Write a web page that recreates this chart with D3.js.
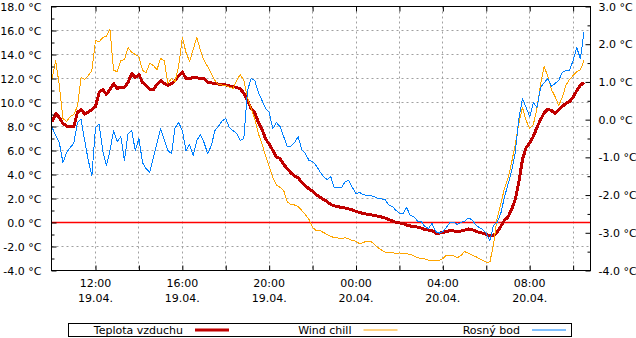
<!DOCTYPE html>
<html><head><meta charset="utf-8">
<script src="https://cdn.jsdelivr.net/npm/d3@7"></script>
<style>
body{margin:0;background:#fff}
svg{display:block}
text{font-family:"DejaVu Sans",sans-serif;font-size:11px;fill:#000}
</style>
</head><body>
<svg id="chart" width="636" height="338"></svg>
<script>
// ---------------- data ----------------
const seriesNames = ["Teplota vzduchu", "Wind chill", "Rosný bod"];
const seriesColors = ["#c00000", "#ffa500", "#0080ff"];
const firstSample = new Date(2024, 3, 19, 10, 0);   // 19.04. 10:00
const sampleStepMinutes = 10;
const axisStart = new Date(2024, 3, 19, 9, 58, 24);
const axisEnd = new Date(2024, 3, 20, 10, 48);

// Teplota vzduchu (left axis, °C)
const temperature = [8.42, 9.08, 8.75, 8.25, 8.04, 8.0, 7.96, 9.17, 9.42, 9.04,
 9.2, 9.42, 9.67, 10.83, 11.08, 10.67, 11.08, 11.58, 11.17, 11.29,
 11.25, 11.67, 12.42, 12.08, 12.33, 11.67, 11.42, 11.08, 11.08, 11.5,
 11.83, 11.58, 11.42, 11.58, 11.83, 12.25, 12.54, 12.0, 12.0, 12.08,
 12.08, 11.96, 12.0, 11.67, 11.63, 11.58, 11.54, 11.5, 11.46, 11.38,
 11.33, 11.25, 11.13, 10.79, 10.17, 9.5, 9.17, 8.36, 7.79, 6.96,
 6.54, 6.0, 5.47, 5.33, 4.83, 4.5, 4.13, 3.88, 3.72, 3.36,
 3.08, 2.79, 2.63, 2.33, 2.13, 1.92, 1.75, 1.5, 1.38, 1.33,
 1.25, 1.21, 1.13, 1.04, 0.92, 0.83, 0.75, 0.69, 0.65, 0.58,
 0.53, 0.46, 0.38, 0.25, 0.13, 0.02, -0.04, -0.08, -0.21, -0.29,
 -0.33, -0.38, -0.46, -0.58, -0.63, -0.67, -0.88, -0.89, -0.83, -0.75,
 -0.67, -0.71, -0.78, -0.71, -0.63, -0.54, -0.58, -0.71, -0.83, -0.89,
 -1.0, -1.13, -1.08, -0.81, -0.33, 0.17, 0.46, 1.08, 1.92, 3.39,
 5.25, 6.25, 6.63, 7.17, 7.92, 8.58, 9.13, 9.46, 9.33, 9.08,
 9.38, 9.67, 9.92, 10.08, 10.42, 11.0, 11.42, 11.69];

// Wind chill (left axis, °C)
const windChill = [12.0, 13.5, 11.42, 8.67, 8.42, 8.83, 9.0, 9.67, 12.08, 11.92,
 12.25, 12.67, 15.17, 15.04, 15.42, 15.5, 16.08, 12.67, 12.58, 13.5,
 13.58, 14.58, 14.17, 14.0, 13.83, 12.67, 12.5, 13.25, 13.08, 12.75,
 13.67, 13.5, 11.58, 12.0, 11.75, 13.08, 15.42, 14.17, 13.42, 14.42,
 15.42, 14.33, 13.5, 13.0, 12.42, 11.83, 11.5, 11.46, 11.42, 11.29,
 11.17, 11.83, 12.33, 11.83, 10.42, 9.5, 8.67, 7.42, 6.54, 5.58,
 4.67, 3.75, 3.13, 2.92, 2.67, 1.71, 1.5, 1.46, 1.33, 1.0,
 0.67, 0.25, -0.42, -0.67, -0.67, -0.83, -1.0, -1.17, -1.25, -1.29,
 -1.36, -1.25, -1.38, -1.5, -1.56, -1.79, -1.67, -1.54, -1.56, -1.79,
 -2.08, -2.29, -2.46, -2.5, -2.53, -2.56, -2.54, -2.58, -2.61, -2.65,
 -2.79, -2.92, -3.03, -3.03, -3.13, -3.17, -3.17, -3.17, -3.0, -2.71,
 -2.71, -2.79, -2.94, -2.75, -2.42, -2.56, -2.71, -2.83, -3.0, -3.17,
 -3.31, -3.29, -1.8, 0.33, 1.5, 2.83, 3.67, 5.0, 6.5, 8.25,
 9.58, 8.5, 7.83, 8.17, 9.5, 11.5, 13.0, 12.17, 11.08, 10.5,
 9.75, 10.42, 11.42, 11.92, 12.25, 12.58, 12.71, 13.5];

// Rosný bod (right axis, °C)
const dewPoint = [-0.21, -0.42, -0.61, -1.14, -0.87, -0.74, -0.63, -0.08, 0.02, -0.55,
 -1.08, -1.48, -0.21, -0.12, -0.82, -1.22, -0.82, -0.29, -0.58, -0.45,
 -1.08, -0.37, -0.29, -0.82, -0.5, -1.14, -1.3, -1.4, -1.0, -0.61,
 -0.24, -0.53, -0.82, -0.9, -0.21, -0.08, -0.29, -0.82, -0.66, -0.95,
 -0.55, -0.39, -0.61, -0.9, -0.69, -0.29, -0.18, -0.03, 0.03, -0.21,
 -0.29, -0.37, -0.55, -0.5, 0.77, 1.09, 1.04, 0.72, 0.51, 0.3,
 0.19, -0.24, -0.08, -0.18, -0.45, -0.71, -0.71, -0.61, -0.45, -0.79,
 -0.9, -1.08, -1.11, -1.22, -1.38, -1.51, -1.59, -1.51, -1.81, -1.81,
 -1.81, -1.64, -1.61, -1.8, -1.96, -1.93, -1.99, -2.01, -2.01, -2.04,
 -2.09, -2.1, -2.12, -2.26, -2.3, -2.4, -2.49, -2.49, -2.33, -2.54,
 -2.57, -2.69, -2.7, -2.83, -2.89, -2.75, -2.97, -3.01, -2.97, -2.85,
 -2.72, -2.72, -2.78, -2.72, -2.7, -2.61, -2.65, -2.78, -2.86, -2.91,
 -3.01, -3.21, -2.8, -2.72, -2.49, -2.06, -1.72, -1.35, -0.87, 0.03,
 0.56, 0.32, 0.08, 0.45, 0.32, 0.85, 0.98, 1.09, 0.88, 0.96,
 1.04, 1.25, 1.3, 1.3, 1.57, 1.91, 1.62, 2.31];

const leftTicks = [-4, -2, 0, 2, 4, 6, 8, 10, 12, 14, 16, 18];
const leftMinorTicks = [-3, -1, 1, 3, 5, 7, 9, 11, 13, 15, 17];
const rightTicks = [-4, -3, -2, -1, 0, 1, 2, 3];
const rightMinorTicks = [-3.5, -2.5, -1.5, -0.5, 0.5, 1.5, 2.5];
const leftDomain = [-4, 18];
const rightDomain = [-4, 3];
const zeroLineValue = 0;

// ---------------- chart ----------------
const times = temperature.map((_, i) => d3.timeMinute.offset(firstSample, i * sampleStepMinutes));
const svg = d3.select("#chart");
svg.append("rect").attr("width", 636).attr("height", 338).attr("fill", "#fff");

const L = 51.5, R = 590.5, T = 6.5, B = 270.5;
const x = d3.scaleTime().domain([axisStart, axisEnd]).range([L, R]);
const yL = d3.scaleLinear().domain(leftDomain).range([B, T]);
const yR = d3.scaleLinear().domain(rightDomain).range([B, T]);

const everyTwoHours = d3.timeHour.every(2).range(axisStart, axisEnd)
  .filter(d => x(d) > L + 3 && x(d) < R - 3);
const labelHours = everyTwoHours.filter(d => d.getHours() % 4 === 0);

// grid
const grid = svg.append("g").attr("stroke", "#a0a0a0").attr("stroke-width", 1)
  .attr("stroke-dasharray", "2,3").attr("fill", "none");
grid.selectAll("line.v").data(everyTwoHours).join("line")
  .attr("x1", d => Math.round(x(d) - 0.5) + 0.5).attr("x2", d => Math.round(x(d) - 0.5) + 0.5)
  .attr("y1", T).attr("y2", B);
grid.selectAll("line.h").data(leftTicks.filter(v => v > leftDomain[0] && v < leftDomain[1]))
  .join("line")
  .attr("x1", L).attr("x2", R)
  .attr("y1", d => yL(d)).attr("y2", d => yL(d));

// zero line
svg.append("line").attr("x1", L).attr("x2", R)
  .attr("y1", yL(zeroLineValue)).attr("y2", yL(zeroLineValue))
  .attr("stroke", "#ff0000").attr("stroke-width", 1.5);

// series
const series = [
  {values: temperature, y: yL, color: seriesColors[0], width: 3},
  {values: windChill, y: yL, color: seriesColors[1], width: 1},
  {values: dewPoint, y: yR, color: seriesColors[2], width: 1}
];
series.forEach(s => {
  const line = d3.line().x((d, i) => x(times[i])).y(d => s.y(d));
  svg.append("path").datum(s.values).attr("d", line)
    .attr("fill", "none").attr("stroke", s.color).attr("stroke-width", s.width)
    .attr("stroke-linejoin", "round").attr("shape-rendering", "crispEdges");
});

// axes
const fmt = d => d.toFixed(1) + " °C";
function styleAxis(g) {
  g.select(".domain").remove();
  g.selectAll("line").attr("stroke", "#000");
  g.selectAll("text").attr("font-family", "DejaVu Sans, sans-serif").attr("font-size", 11).attr("fill", "#000");
}
svg.append("g").attr("transform", `translate(${L},0)`)
  .call(d3.axisLeft(yL).tickValues(leftTicks).tickSize(-5).tickPadding(10).tickFormat(fmt))
  .call(styleAxis);
svg.append("g").attr("transform", `translate(${L},0)`)
  .call(d3.axisLeft(yL).tickValues(leftMinorTicks).tickSize(-3).tickFormat(""))
  .call(styleAxis);
svg.append("g").attr("transform", `translate(${R},0)`)
  .call(d3.axisRight(yR).tickValues(rightTicks).tickSize(-5).tickPadding(8).tickFormat(fmt))
  .call(styleAxis);
svg.append("g").attr("transform", `translate(${R},0)`)
  .call(d3.axisRight(yR).tickValues(rightMinorTicks).tickSize(-3).tickFormat(""))
  .call(styleAxis);
svg.append("g").attr("transform", `translate(0,${B})`)
  .call(d3.axisBottom(x).tickValues(everyTwoHours).tickSize(-5).tickFormat(""))
  .call(styleAxis);
svg.append("g").attr("transform", `translate(0,${T})`)
  .call(d3.axisTop(x).tickValues(everyTwoHours).tickSize(-5).tickFormat(""))
  .call(styleAxis);

// x labels (two lines)
const xl = svg.append("g").attr("text-anchor", "middle");
xl.selectAll("text.t").data(labelHours).join("text")
  .attr("x", d => x(d)).attr("y", 287).text(d3.timeFormat("%H:%M"));
xl.selectAll("text.d").data(labelHours).join("text").attr("class", "d")
  .attr("x", d => x(d)).attr("y", 302).text(d3.timeFormat("%d.%m."));

// frame
svg.append("rect").attr("x", L).attr("y", T).attr("width", R - L).attr("height", B - T)
  .attr("fill", "none").attr("stroke", "#000").attr("stroke-width", 1);

// legend
const lg = svg.append("g");
lg.append("rect").attr("x", 68.5).attr("y", 323.5).attr("width", 503).attr("height", 13)
  .attr("fill", "none").attr("stroke", "#000");
seriesNames.forEach((name, i) => {
  const x0 = 68 + i * 168.5;
  lg.append("text").attr("x", x0 + 115).attr("y", 334).attr("text-anchor", "end").text(name);
  lg.append("line").attr("x1", x0 + 127).attr("x2", x0 + 161).attr("y1", 330).attr("y2", 330)
    .attr("stroke", seriesColors[i]).attr("stroke-width", series[i].width);
});
</script>
</body></html>
